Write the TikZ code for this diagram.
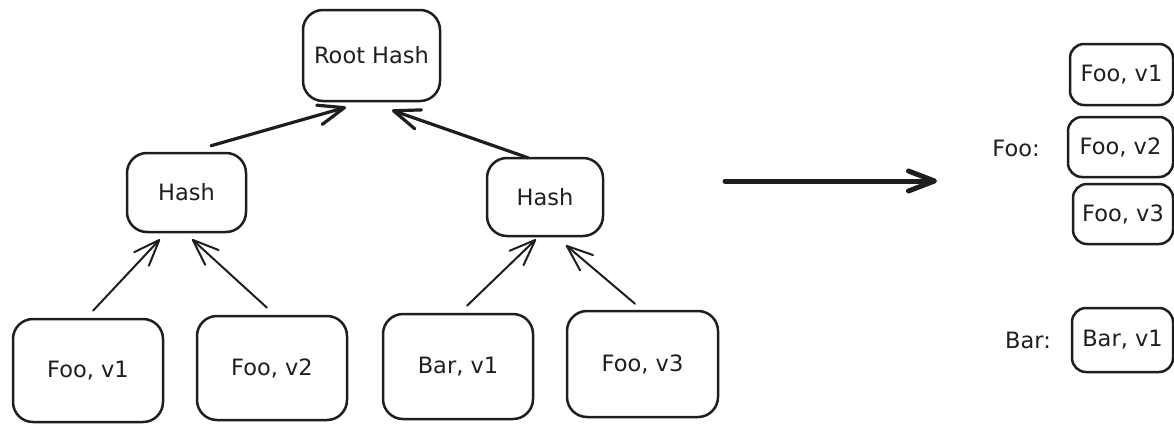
\documentclass[tikz,border=0pt]{standalone}
\usepackage{fontspec}
\setmainfont{DejaVu Sans}
\usetikzlibrary{arrows.meta,calc}
\definecolor{ink}{HTML}{1E1E1E}
\begin{document}
\begin{tikzpicture}[x=1pt,y=-1pt,
  font=\fontsize{22.5}{26}\selectfont,
  box/.style={draw=ink,line width=2.5pt,rounded corners=20pt,inner sep=0pt,
    text=ink,line join=round},
  smallbox/.style={box,rounded corners=14pt},
  lbl/.style={text=ink,inner sep=0pt},
  link/.style={draw=ink,line width=2pt,line cap=round,
    -{Straight Barb[length=26pt,width=20pt,round]}},
  thick link/.style={link,line width=3.2pt},
  big link/.style={draw=ink,line width=5pt,line cap=round,
    -{Straight Barb[length=26pt,width=20pt,round]}}]
\useasboundingbox (0,0) rectangle (1174,423);

% tree of hashes
\node[box,minimum width=137pt,minimum height=91pt] (root) at (371.5,55.5) {Root Hash};
\node[box,minimum width=119pt,minimum height=79pt] (hl) at (186.5,192.5) {Hash};
\node[box,minimum width=116pt,minimum height=78pt] (hr) at (545,197) {Hash};

% leaves
\node[box,minimum width=150pt,minimum height=103pt] (fv1) at (88,370.5) {Foo, v1};
\node[box,minimum width=150pt,minimum height=104pt] (fv2) at (272,368) {Foo, v2};
\node[box,minimum width=150pt,minimum height=105pt] (bv1) at (458,366.5) {Bar, v1};
\node[box,minimum width=151pt,minimum height=106pt] (fv3) at (642.5,364) {Foo, v3};

% edges up the tree
\draw[thick link] ($(hl.north)+(24.5,-6)$) -- ($(root.south)+(-25.5,5)$);
\draw[thick link] ($(hr.north)+(-17,1)$) -- ($(root.south)+(20.5,8)$);
\draw[link] ($(fv1.north)+(5,-7)$) -- ($(hl.south)+(-26.5,6)$);
\draw[link] ($(fv2.north)+(-5,-7)$) -- ($(hl.south)+(5.5,6)$);
\draw[link] ($(bv1.north)+(9,-7)$) -- ($(hr.south)+(-9,2)$);
\draw[link] ($(fv3.north)+(-7.5,-6)$) -- ($(hr.south)+(21,8)$);

% transformation arrow
\coordinate (tfrom) at (725,181);
\coordinate (tto) at (937,181);
\draw[big link] (tfrom) -- (tto);

% grouped by key
\node[lbl] (foolab) at (1016,148) {Foo:};
\node[smallbox,minimum width=103pt,minimum height=61pt] (rf1) at (1121.5,74.5) {Foo, v1};
\node[smallbox,minimum width=105pt,minimum height=60pt] (rf2) at (1120.5,147) {Foo, v2};
\node[smallbox,minimum width=100pt,minimum height=60pt] (rf3) at (1123,214) {Foo, v3};
\node[lbl] (barlab) at (1028,340) {Bar:};
\node[smallbox,minimum width=101pt,minimum height=64pt] (rb1) at (1122.5,340) {Bar, v1};
\end{tikzpicture}
\end{document}
